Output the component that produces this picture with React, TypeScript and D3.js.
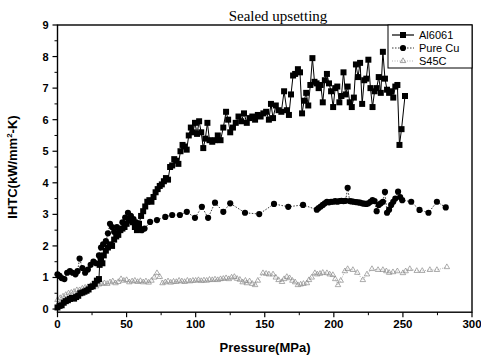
import React from "react";
import * as d3 from "d3";

// ---------- data ----------
const alP = [0,1.5,3,4.5,6,7.5,9,10.5,12,13.5,15,16.5,18,19.5,21,22.5,24,25.5,27,28.5,30,30.5,31.5,32.5,33.5,35,36.5,38,39.5,41,42.5,44,45.5,47,48.5,50,51.5,53,54.5,56,57.5,59,60.5,62,63.5,65,66.5,68,69.5,71,72.5,74,75.5,77,78.5,80,81.5,83,84.5,86,87.5,89,90.5,92,93.5,95,96.5,98,99.5,101,102.5,104,105.5,107,108.5,110,112,114,116,118,120,122,123.5,125,127,129,131,133,135,137,139,141,143,145,147,149,151,153,154.5,156,158,160,162,164,166,167.5,169,170.5,172,174,175.5,177,178.5,180,181.5,183,184.5,186,187.5,189,190.5,192,193.5,195,196.5,198,199.5,201,202.5,204,205.5,207,208.5,210,211.5,213,214.5,216,217.5,219,220.5,222,223.5,225,226.5,228,229.5,231,232.5,234,235.5,237,238.5,240,241.5,243,244.5,246,247.5,249,251.5];
const alV = [0.05,0.1,0.12,0.2,0.25,0.28,0.32,0.35,0.33,0.38,0.42,0.5,0.52,0.55,0.58,0.62,0.7,0.72,0.8,0.9,0.95,1.4,1.55,1.45,1.7,1.85,1.95,2.05,2.0,2.2,2.3,2.35,2.5,2.55,2.6,2.7,2.8,2.9,2.75,2.6,2.5,2.7,2.95,3.1,3.25,3.4,3.45,3.4,3.55,3.7,3.8,3.9,3.95,4.05,4.15,4.1,4.5,4.55,4.75,4.7,4.6,5.0,5.2,5.15,5.05,5.5,5.75,5.6,5.9,5.55,5.95,5.6,5.1,5.4,5.9,5.35,5.3,5.35,5.5,5.35,5.75,6.25,6.0,5.6,5.75,5.9,6.1,5.95,6.2,5.9,6.05,6.1,6.0,6.15,6.1,6.2,6.25,6.0,6.5,6.05,6.45,6.3,6.25,6.9,6.3,6.15,6.8,7.4,7.45,7.6,7.5,6.2,6.6,6.85,6.45,7.1,7.95,7.2,7.15,7.0,7.1,6.55,7.25,7.45,7.15,6.9,6.4,7.0,7.05,6.55,6.75,7.5,6.8,7.05,6.55,6.4,6.7,7.75,7.35,7.8,6.5,7.25,7.3,7.9,7.0,6.4,6.9,7.0,7.35,6.85,8.15,7.3,6.95,6.85,6.9,6.7,7.05,7.1,5.2,5.7,6.75];

const cuP = [0,1.5,3,5,7,9,11,13,14.5,16,18,20,22,24,26,28,30,31.5,33,35,36.5,38,39.5,41,43,45,47,49,51,53,55,57,59,61,63,67,72,78,83,88.6,93.6,99.5,104.5,109,114,120,125,135.7,146,156.7,167,177.7,187.7,189,190.5,192,193.5,195,196.5,198,199.5,201,202.5,204,205.5,207,208.5,210,211.5,213,214.5,216,217.5,219,220.5,222,223.5,225,226.5,228,229.5,231,232.5,234,235.5,237,238.5,240,241.5,243,244.5,246.5,248,249.5,256,262,268.5,274.6,281];
const cuV = [1.1,1.05,0.98,0.95,1.15,1.2,1.15,1.1,1.2,1.6,1.3,1.15,1.25,1.4,1.5,1.45,1.7,1.95,2.05,2.15,2.4,2.7,2.6,2.45,2.6,2.5,2.75,2.9,3.05,2.95,2.85,2.75,2.6,2.5,2.55,2.76,2.82,2.92,2.98,2.98,3.08,2.89,3.24,2.89,3.37,3.08,3.35,3.05,3.01,3.33,3.24,3.3,3.15,3.2,3.25,3.3,3.35,3.4,3.38,3.4,3.4,3.42,3.4,3.42,3.43,3.42,3.43,3.84,3.42,3.41,3.4,3.39,3.38,3.37,3.35,3.34,3.33,3.35,3.4,3.45,3.42,3.1,3.3,3.35,3.4,3.71,3.05,3.15,3.3,3.4,3.5,3.72,3.55,3.45,3.4,3.14,3.05,3.4,3.22];

const sP = [0,2,4,6,8,10,12,14,16,18,20,22,24,26,28,30,32,34,36,38,40,42,44,46,48,50,52,54,56,58,60,62,64,66,68,70,72,74,76,78,80,82,84,86,88,90,92,94,96,98,100,102,104,106,108,110,112,114,116,118,120,122,124,126,128,130,132,134,136,137,139,141,143,145,148.7,151,153,156,158,160,162.5,164,166,168,170,172,174,176,178,180.5,182,184,186.3,188,190,192,195,197,199.3,201,203,205,208,210,213.8,217,221,224,227.6,232,235.5,238,240,242.8,246,250,252,255,260,264,269.5,274.6,281.8];
const sV = [0.29,0.35,0.4,0.45,0.5,0.52,0.55,0.6,0.6,0.65,0.68,0.7,0.74,0.76,0.72,0.78,0.8,0.82,0.8,0.85,0.88,0.82,0.86,0.95,0.9,0.92,0.85,0.88,0.9,0.86,0.89,0.85,0.88,0.84,0.9,1.0,1.14,1.02,0.82,0.85,0.88,0.84,0.87,0.86,0.9,0.88,0.86,0.9,0.88,0.9,0.9,0.92,0.89,0.91,0.9,0.93,0.92,0.94,0.92,0.95,0.96,0.98,0.95,1.0,1.02,0.96,0.93,0.85,0.9,0.82,0.88,0.8,0.76,0.9,1.14,1.12,1.1,1.1,1.0,0.92,0.86,0.95,1.02,0.98,0.9,0.85,0.76,0.78,0.8,0.82,0.92,1.0,1.14,1.1,1.12,1.15,1.14,1.1,1.08,0.95,0.76,0.9,1.2,1.27,1.24,1.15,0.92,1.1,1.27,1.24,1.24,1.2,1.15,1.17,1.2,1.14,1.2,1.27,1.21,1.21,1.24,1.24,1.33];

const xTicks = [0, 50, 100, 150, 200, 250, 300];
const yTicks = [0, 1, 2, 3, 4, 5, 6, 7, 8, 9];
const seriesNames = ["Al6061", "Pure Cu", "S45C"];

// ---------- layout ----------
const W = 481, H = 358;
const x = d3.scaleLinear().domain([0, 300]).range([57.5, 472]);
const y = d3.scaleLinear().domain([-0.1, 9]).range([312.2, 25]);

const zip = (p: number[], v: number[]) => p.map((pp, i) => [pp, v[i]] as [number, number]);
const line = d3.line<[number, number]>().x(d => x(d[0])).y(d => y(d[1]));

const sq = d3.symbol().type(d3.symbolSquare).size(36)() as string;
const ci = d3.symbol().type(d3.symbolCircle).size(30)() as string;
const tri = d3.symbol().type(d3.symbolTriangle).size(13)() as string;

const al = zip(alP, alV);
const cu = zip(cuP, cuV);
const s45 = zip(sP, sV);

const font = "'Liberation Sans', Arial, sans-serif";

export default function App() {
  const x0 = x.range()[0], x1 = x.range()[1];
  const y0 = y.range()[0], y1 = y.range()[1];
  const xMinor = d3.range(25, 300, 50);
  const yMinor = d3.range(0.5, 9, 1);
  return (
    <svg width={W} height={H} style={{ position: "absolute", left: 0, top: 0, background: "#fff" }}>
      <text x={278} y={21} textAnchor="middle" fontFamily="'Liberation Serif', 'Times New Roman', serif" fontSize={15}>Sealed upsetting</text>

      {/* series S45C */}
      <path d={line(s45) || ""} fill="none" stroke="#9a9a9a" strokeWidth={0.8} strokeDasharray="1,1.5" />
      {s45.map((d, i) => (
        <path key={"s" + i} d={tri} transform={`translate(${x(d[0])},${y(d[1])})`} fill="none" stroke="#8a8a8a" strokeWidth={0.7} />
      ))}
      {/* series Cu */}
      <path d={line(cu) || ""} fill="none" stroke="#222" strokeWidth={0.9} strokeDasharray="1.5,1.5" />
      {cu.map((d, i) => (
        <path key={"c" + i} d={ci} transform={`translate(${x(d[0])},${y(d[1])})`} fill="#000" />
      ))}
      {/* series Al */}
      <path d={line(al) || ""} fill="none" stroke="#000" strokeWidth={1} />
      {al.map((d, i) => (
        <path key={"a" + i} d={sq} transform={`translate(${x(d[0])},${y(d[1])})`} fill="#000" />
      ))}

      {/* frame */}
      <rect x={x0} y={y1} width={x1 - x0} height={y0 - y1} fill="none" stroke="#000" strokeWidth={1.4} />

      {/* y axis ticks */}
      {yTicks.map(t => (
        <g key={"yt" + t}>
          <line x1={x0 - 5} x2={x0} y1={y(t)} y2={y(t)} stroke="#000" strokeWidth={1.2} />
          <text x={x0 - 9} y={y(t) + 4} textAnchor="end" fontFamily={font} fontWeight="bold" fontSize={11}>{t}</text>
        </g>
      ))}
      {yMinor.map(t => (
        <line key={"ym" + t} x1={x0 - 3} x2={x0} y1={y(t)} y2={y(t)} stroke="#000" strokeWidth={1} />
      ))}
      {/* x axis ticks */}
      {xTicks.map(t => (
        <g key={"xt" + t}>
          <line x1={x(t)} x2={x(t)} y1={y0} y2={y0 + 5} stroke="#000" strokeWidth={1.2} />
          <text x={x(t)} y={y0 + 16} textAnchor="middle" fontFamily={font} fontWeight="bold" fontSize={11.5}>{t}</text>
        </g>
      ))}
      {xMinor.map(t => (
        <line key={"xm" + t} x1={x(t)} x2={x(t)} y1={y0} y2={y0 + 3} stroke="#000" strokeWidth={1} />
      ))}

      {/* axis titles */}
      <text x={265} y={352} textAnchor="middle" fontFamily={font} fontWeight="bold" fontSize={13}>Pressure(MPa)</text>
      <text transform={`translate(17,${y(4.5)}) rotate(-90)`} textAnchor="middle" fontFamily={font} fontWeight="bold" fontSize={13}>
        IHTC(kW/mm<tspan dy={-5} fontSize={8}>2</tspan><tspan dy={5}>-K)</tspan>
      </text>

      {/* legend */}
      <rect x={388} y={25} width={84} height={43} fill="#fff" stroke="#000" strokeWidth={1} />
      {seriesNames.map((n, i) => {
        const ly = 35 + i * 13;
        return (
          <g key={n}>
            {i === 0 && <line x1={392} x2={414} y1={ly} y2={ly} stroke="#000" strokeWidth={1.2} />}
            {i === 1 && <line x1={392} x2={414} y1={ly} y2={ly} stroke="#222" strokeWidth={0.9} strokeDasharray="1.5,1.5" />}
            {i === 2 && <line x1={392} x2={414} y1={ly} y2={ly} stroke="#9a9a9a" strokeWidth={0.8} strokeDasharray="1,1.5" />}
            {i === 0 && <path d={sq} transform={`translate(403,${ly})`} fill="#000" />}
            {i === 1 && <path d={ci} transform={`translate(403,${ly})`} fill="#000" />}
            {i === 2 && <path d={tri} transform={`translate(403,${ly})`} fill="none" stroke="#777" strokeWidth={0.7} />}
            <text x={419} y={ly + 4} fontFamily={font} fontSize={11}>{n}</text>
          </g>
        );
      })}
    </svg>
  );
}
